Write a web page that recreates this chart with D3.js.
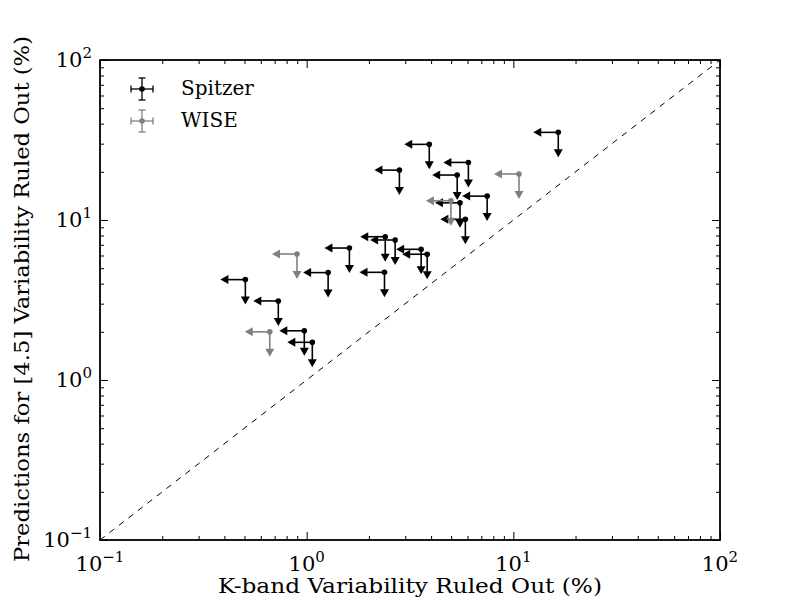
<!DOCTYPE html>
<html>
<head>
<meta charset="utf-8">
<script src="https://cdn.jsdelivr.net/npm/d3@7"></script>
<style>
  body { margin: 0; background: #fff; }
  text { font-family: "DejaVu Serif", serif; fill: #000; }
</style>
</head>
<body>
<div id="chart"></div>
<script>
// values (upper limits, percent)
var spitzerK = [16.5, 3.92, 6.06, 2.81, 5.35, 7.47, 5.52, 5.86, 2.40, 2.68,
  1.61, 3.58, 3.83, 1.27, 2.38, 0.505, 0.729, 0.974, 1.065];
var spitzerPred = [35.3, 29.7, 22.9, 20.5, 19.1, 14.1, 12.8, 10.1, 7.86, 7.50,
  6.68, 6.56, 6.11, 4.69, 4.71, 4.24, 3.12, 2.03, 1.72];
var wiseK = [10.65, 4.99, 0.898, 0.663];
var wisePred = [19.4, 13.2, 6.13, 2.00];

var majorTicks = [0.1, 1, 10, 100];
var majorExp = ["\u22121", "0", "1", "2"];

var width = 800;
var height = 600;
var plotL = 100, plotR = 720, plotT = 60, plotB = 540;

var svg = d3.select('#chart')
  .append("svg")
  .attr("width", width)
  .attr("height", height)

var x = d3.scaleLog().domain([0.1, 100]).range([plotL, plotR])
var y = d3.scaleLog().domain([0.1, 100]).range([plotB, plotT])

// minor ticks 2..9 in each decade
var minorTicks = []
majorTicks.slice(0, 3).forEach(function (m) {
  for (var k = 2; k < 10; k++) minorTicks.push(m * k)
})

function drawTicks(axisFn, scale, tx, ty) {
  svg.append("g")
    .attr("transform", "translate(" + tx + "," + ty + ")")
    .call(axisFn(scale).tickValues(majorTicks).tickSizeInner(-8).tickSizeOuter(0).tickFormat(""))
    .call(function (g) { g.select(".domain").remove() })
  svg.append("g")
    .attr("transform", "translate(" + tx + "," + ty + ")")
    .call(axisFn(scale).tickValues(minorTicks).tickSizeInner(-4).tickSizeOuter(0).tickFormat(""))
    .call(function (g) { g.select(".domain").remove() })
}
drawTicks(d3.axisBottom, x, 0, plotB)
drawTicks(d3.axisTop, x, 0, plotT)
drawTicks(d3.axisLeft, y, plotL, 0)
drawTicks(d3.axisRight, y, plotR, 0)
svg.selectAll(".tick line").attr("stroke", "#000").attr("stroke-width", 1)

// 1:1 line
svg.append("line")
  .attr("x1", x(0.1)).attr("y1", y(0.1))
  .attr("x2", x(100)).attr("y2", y(100))
  .attr("stroke", "#000")
  .attr("stroke-width", 1)
  .attr("stroke-dasharray", "6,6")

// upper-limit markers
var arrowLen = 25, headLen = 8, headHalf = 4.5;

function drawSeries(xs, ys, color) {
  var data = xs.map(function (d, i) { return [d, ys[i]] })
  var g = svg.append("g").selectAll("g")
    .data(data)
    .enter()
    .append("g")
    .attr("transform", function (d) {
      return "translate(" + x(d[0]) + "," + y(d[1]) + ")"
    })
  g.append("line")
    .attr("x1", 0).attr("y1", 0).attr("x2", -arrowLen + headLen - 1).attr("y2", 0)
    .attr("stroke", color).attr("stroke-width", 1.6)
  g.append("line")
    .attr("x1", 0).attr("y1", 0).attr("x2", 0).attr("y2", arrowLen - headLen + 1)
    .attr("stroke", color).attr("stroke-width", 1.6)
  g.append("path")
    .attr("d", "M" + (-arrowLen) + ",0L" + (-arrowLen + headLen) + "," + (-headHalf) +
      "L" + (-arrowLen + headLen) + "," + headHalf + "Z")
    .attr("fill", color)
  g.append("path")
    .attr("d", "M0," + arrowLen + "L" + (-headHalf) + "," + (arrowLen - headLen) +
      "L" + headHalf + "," + (arrowLen - headLen) + "Z")
    .attr("fill", color)
  g.append("circle")
    .attr("r", 2.8)
    .attr("fill", color)
}
drawSeries(spitzerK, spitzerPred, "#000")
drawSeries(wiseK, wisePred, "#808080")

// frame
svg.append("rect")
  .attr("x", plotL).attr("y", plotT)
  .attr("width", plotR - plotL).attr("height", plotB - plotT)
  .attr("fill", "none")
  .attr("stroke", "#000")
  .attr("stroke-width", 1.8)

// tick labels
function powerLabel(sel, exp) {
  sel.append("tspan").text("10").attr("font-size", 21)
  sel.append("tspan").text(exp).attr("font-size", 15).attr("dy", -9)
}
majorTicks.forEach(function (t, i) {
  svg.append("text")
    .attr("x", x(t)).attr("y", plotB + 31)
    .attr("text-anchor", "middle")
    .call(powerLabel, majorExp[i])
  svg.append("text")
    .attr("x", plotL - 8).attr("y", y(t) + 7)
    .attr("text-anchor", "end")
    .call(powerLabel, majorExp[i])
})

// axis titles
svg.append("text")
  .attr("x", 410).attr("y", 593)
  .attr("text-anchor", "middle")
  .attr("font-size", 20)
  .attr("textLength", 384)
  .attr("lengthAdjust", "spacingAndGlyphs")
  .text("K-band Variability Ruled Out (%)")

svg.append("text")
  .attr("transform", "translate(29,299) rotate(-90)")
  .attr("text-anchor", "middle")
  .attr("font-size", 20)
  .attr("textLength", 526)
  .attr("lengthAdjust", "spacingAndGlyphs")
  .text("Predictions for [4.5] Variability Ruled Out (%)")

// legend
var legendNames = ["Spitzer", "WISE"];
var legendColors = ["#000", "#808080"];
legendNames.forEach(function (name, i) {
  var cy = 89 + i * 32, cx = 142
  var c = legendColors[i]
  var lg = svg.append("g").attr("transform", "translate(" + cx + "," + cy + ")")
  lg.append("line").attr("x1", -11).attr("x2", 11).attr("y1", 0).attr("y2", 0)
    .attr("stroke", c).attr("stroke-width", 1.3)
  lg.append("line").attr("x1", 0).attr("x2", 0).attr("y1", -11).attr("y2", 11)
    .attr("stroke", c).attr("stroke-width", 1.3)
  lg.append("line").attr("x1", -11).attr("x2", -11).attr("y1", -3.5).attr("y2", 3.5)
    .attr("stroke", c).attr("stroke-width", 1.3)
  lg.append("line").attr("x1", 11).attr("x2", 11).attr("y1", -3.5).attr("y2", 3.5)
    .attr("stroke", c).attr("stroke-width", 1.3)
  lg.append("line").attr("x1", -3.5).attr("x2", 3.5).attr("y1", -11).attr("y2", -11)
    .attr("stroke", c).attr("stroke-width", 1.3)
  lg.append("line").attr("x1", -3.5).attr("x2", 3.5).attr("y1", 11).attr("y2", 11)
    .attr("stroke", c).attr("stroke-width", 1.3)
  lg.append("circle").attr("r", 2.8).attr("fill", c)
  svg.append("text")
    .attr("x", 181).attr("y", cy + 6)
    .attr("font-size", 20)
    .text(name)
})
</script>
</body>
</html>
